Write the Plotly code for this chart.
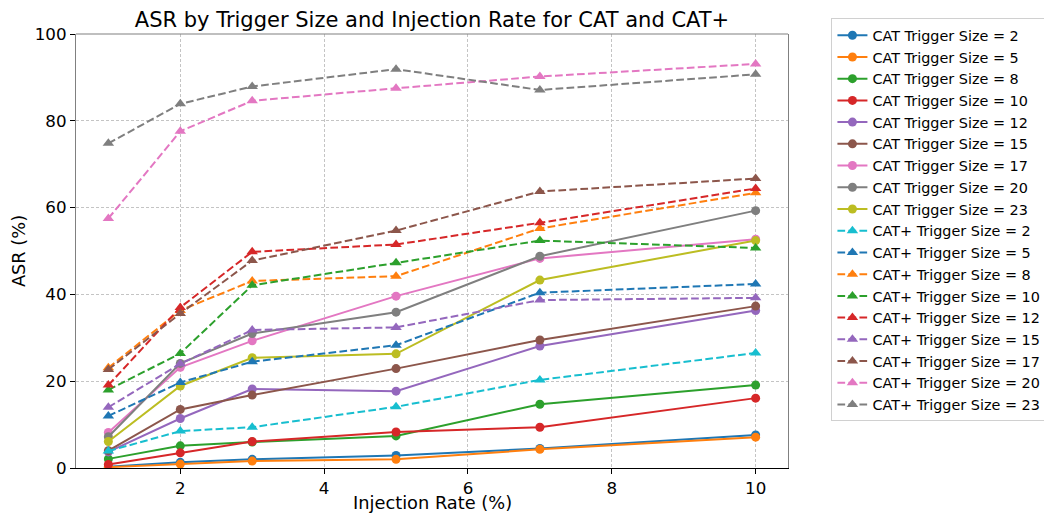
import plotly.graph_objects as go

injection_rate = [1, 2, 3, 5, 7, 10]

trigger_sizes = [2, 5, 8, 10, 12, 15, 17, 20, 23]

cat_2 = [0.3, 1.3, 2.0, 2.9, 4.5, 7.6]
cat_5 = [0.2, 0.9, 1.6, 2.0, 4.3, 7.1]
cat_8 = [2.1, 5.1, 6.0, 7.4, 14.7, 19.1]
cat_10 = [0.8, 3.5, 6.1, 8.3, 9.4, 16.1]
cat_12 = [3.7, 11.4, 18.2, 17.7, 28.1, 36.3]
cat_15 = [4.0, 13.5, 16.8, 22.9, 29.5, 37.3]
cat_17 = [8.2, 23.2, 29.3, 39.6, 48.3, 52.7]
cat_20 = [7.2, 24.1, 31.0, 35.9, 48.8, 59.3]
cat_23 = [6.1, 18.9, 25.4, 26.3, 43.3, 52.4]

catp_2 = [3.9, 8.5, 9.4, 14.1, 20.3, 26.5]
catp_5 = [12.0, 19.7, 24.5, 28.3, 40.4, 42.4]
catp_8 = [23.1, 36.3, 43.1, 44.2, 55.2, 63.4]
catp_10 = [18.0, 26.4, 42.1, 47.3, 52.4, 50.7]
catp_12 = [19.1, 37.0, 49.8, 51.5, 56.5, 64.4]
catp_15 = [14.0, 24.0, 31.8, 32.4, 38.7, 39.2]
catp_17 = [22.7, 35.6, 47.8, 54.7, 63.7, 66.7]
catp_20 = [57.5, 77.6, 84.6, 87.5, 90.2, 93.1]
catp_23 = [74.8, 83.9, 87.9, 91.9, 87.1, 90.7]

cat_series = [cat_2, cat_5, cat_8, cat_10, cat_12, cat_15, cat_17, cat_20, cat_23]
catp_series = [catp_2, catp_5, catp_8, catp_10, catp_12, catp_15, catp_17, catp_20, catp_23]

cat_colors = ["#1f77b4", "#ff7f0e", "#2ca02c", "#d62728", "#9467bd",
              "#8c564b", "#e377c2", "#7f7f7f", "#bcbd22"]
catp_colors = ["#17becf", "#1f77b4", "#ff7f0e", "#2ca02c", "#d62728",
               "#9467bd", "#8c564b", "#e377c2", "#7f7f7f"]

FONT = "DejaVu Sans"
# the page body adds an 8px offset, so the figure is drawn 8px smaller
W, H = 1044, 508

fig = go.Figure()
for size, vals, col in zip(trigger_sizes, cat_series, cat_colors):
    fig.add_trace(go.Scatter(
        x=injection_rate, y=vals, mode="lines+markers",
        name=f"CAT Trigger Size = {size}",
        line=dict(color=col, width=2),
        marker=dict(symbol="circle", size=9, color=col),
    ))
for size, vals, col in zip(trigger_sizes, catp_series, catp_colors):
    fig.add_trace(go.Scatter(
        x=injection_rate, y=vals, mode="lines+markers",
        name=f"CAT+ Trigger Size = {size}",
        line=dict(color=col, width=2, dash="7.7px,3.3px"),
        marker=dict(symbol="triangle-up", size=10, color=col),
    ))

fig.update_layout(
    width=W, height=H,
    margin=dict(l=68, r=264, t=26, b=48, autoexpand=False),
    paper_bgcolor="white", plot_bgcolor="white",
    font=dict(family=FONT, size=16.7, color="black"),
    title=dict(text="ASR by Trigger Size and Injection Rate for CAT and CAT+",
               x=0.5, xref="paper", xanchor="center",
               y=1 - 12 / H, yref="container", yanchor="middle",
               font=dict(size=21, family=FONT)),
    showlegend=True,
    legend=dict(x=1.061, xanchor="left", y=1.036, yanchor="top",
                font=dict(size=14.4, family=FONT),
                bordercolor="#d0d0d0", borderwidth=1, bgcolor="white",
                tracegroupgap=0, maxheight=490),
    xaxis=dict(range=[0.55, 10.45], tickvals=[2, 4, 6, 8, 10],
               showgrid=True, gridcolor="#c4c4c4", gridwidth=0.8, griddash="3px,2px",
               zeroline=False, showline=True, linecolor="black", linewidth=1.2,
               ticks="outside", ticklen=5, tickcolor="black"),
    yaxis=dict(range=[0, 100], tickvals=[0, 20, 40, 60, 80, 100],
               showgrid=True, gridcolor="#c4c4c4", gridwidth=0.8, griddash="3px,2px",
               zeroline=False, showline=True, linecolor="#808080", linewidth=1.2,
               mirror=True,
               ticks="outside", ticklen=5, tickcolor="black",
               title=dict(text="ASR (%)", standoff=10,
                          font=dict(size=17.8, family=FONT))),
)
# x-axis title placed as an annotation so it can sit below the tick labels
fig.add_annotation(text="Injection Rate (%)", xref="paper", yref="paper",
                   x=0.5, y=-(495 - 460) / 434, xanchor="center", yanchor="middle",
                   showarrow=False, font=dict(size=17.8, family=FONT, color="black"))
fig.add_shape(type="line", xref="paper", yref="paper", x0=0, x1=1, y0=1, y1=1,
              line=dict(color="#808080", width=1.2))

fig.write_html("out.html")
